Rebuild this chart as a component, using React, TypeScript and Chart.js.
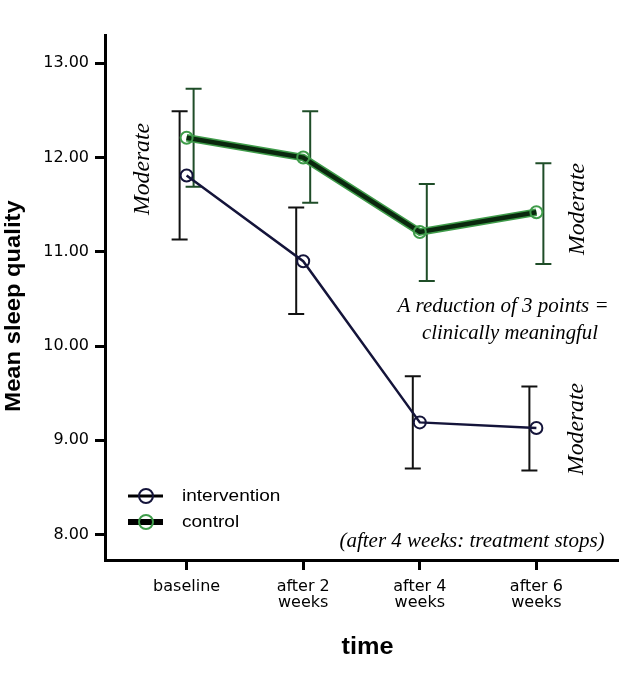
import React, { useEffect, useRef } from "react";
import { Chart, registerables } from "chart.js";

Chart.register(...registerables);

// ---- data ----
const timePoints = [0, 1, 2, 3];
const tickLabels: (string | string[])[] = ["baseline", ["after 2", "weeks"], ["after 4", "weeks"], ["after 6", "weeks"]];
const yTicks = [8, 9, 10, 11, 12, 13];

const interventionMean = [11.81, 10.9, 9.19, 9.13];
const interventionUpper = [12.49, 11.47, 9.68, 9.57];
const interventionLower = [11.13, 10.34, 8.7, 8.68];

const controlMean = [12.21, 12.0, 11.21, 11.42];
const controlUpper = [12.73, 12.49, 11.72, 11.94];
const controlLower = [11.69, 11.52, 10.69, 10.87];

const seriesNames = ["intervention", "control"];
const yTitle = "Mean sleep quality";
const xTitle = "time";
const noteModerate = "Moderate";
const noteReduction = ["A reduction of 3 points =", "clinically meaningful"];
const noteStop = "(after 4 weeks: treatment stops)";

const INT_COLOR = "#14143a";
const CTRL_CORE = "#0a280e";
const CTRL_HALO = "#3f9c4a";
const CTRL_BAR = "#1f4d28";
const HAND = '"Liberation Serif", "DejaVu Serif", serif';
const TICK_FONT = '"DejaVu Sans", "Liberation Sans", sans-serif';

function stretchText(ctx: CanvasRenderingContext2D, text: string, x: number, y: number, sx: number) {
  ctx.save();
  ctx.translate(x, y);
  ctx.scale(sx, 1);
  ctx.fillText(text, 0, 0);
  ctx.restore();
}

const errorBarPlugin = {
  id: "errorBars",
  beforeDatasetsDraw(chart: any) {
    const { ctx, scales } = chart;
    const xs = scales.x;
    const ys = scales.y;
    const draw = (lo: number[], hi: number[], off: number, color: string) => {
      ctx.save();
      ctx.strokeStyle = color;
      ctx.lineWidth = 2;
      lo.forEach((l, i) => {
        const x = xs.getPixelForValue(timePoints[i] + off);
        const y1 = ys.getPixelForValue(l);
        const y2 = ys.getPixelForValue(hi[i]);
        ctx.beginPath();
        ctx.moveTo(x, y1);
        ctx.lineTo(x, y2);
        ctx.moveTo(x - 8, y1);
        ctx.lineTo(x + 8, y1);
        ctx.moveTo(x - 8, y2);
        ctx.lineTo(x + 8, y2);
        ctx.stroke();
      });
      ctx.restore();
    };
    draw(interventionLower, interventionUpper, -0.06, "#111111");
    draw(controlLower, controlUpper, 0.06, CTRL_BAR);
  },
};

const notesPlugin = {
  id: "notes",
  afterDraw(chart: any) {
    const { ctx, chartArea } = chart;
    ctx.save();
    ctx.fillStyle = "#000";
    // axis titles
    ctx.font = 'bold 22px "Liberation Sans", Arial, sans-serif';
    ctx.textAlign = "center";
    ctx.textBaseline = "middle";
    ctx.save();
    ctx.translate(14, 306);
    ctx.rotate(-Math.PI / 2);
    ctx.scale(1.08, 1);
    ctx.fillText(yTitle, 0, 0);
    ctx.restore();
    ctx.font = 'bold 23px "Liberation Sans", Arial, sans-serif';
    stretchText(ctx, xTitle, (chartArea.left + chartArea.right) / 2 + 6, 648, 1.1);

    // legend
    const lx = 128;
    const rows = [
      { y: 496, w: 3, line: "#000", ring: INT_COLOR },
      { y: 522, w: 6, line: "#000", ring: CTRL_HALO },
    ];
    rows.forEach((r, i) => {
      ctx.strokeStyle = r.line;
      ctx.lineWidth = r.w;
      ctx.beginPath();
      ctx.moveTo(lx, r.y);
      ctx.lineTo(lx + 35, r.y);
      ctx.stroke();
      ctx.strokeStyle = r.ring;
      ctx.lineWidth = 2;
      ctx.beginPath();
      ctx.arc(lx + 18, r.y, 7, 0, Math.PI * 2);
      ctx.stroke();
      ctx.fillStyle = "#000";
      ctx.font = '17px "Liberation Sans", Arial, sans-serif';
      ctx.textAlign = "left";
      ctx.textBaseline = "middle";
      stretchText(ctx, seriesNames[i], 182, r.y, 1.12);
    });

    // handwritten notes
    ctx.fillStyle = "#000";
    ctx.textAlign = "center";
    ctx.textBaseline = "middle";
    ctx.font = `italic 24px ${HAND}`;
    const mod = [
      { x: 143, y: 169 },
      { x: 578, y: 209 },
      { x: 577, y: 429 },
    ];
    mod.forEach((m) => {
      ctx.save();
      ctx.translate(m.x, m.y);
      ctx.rotate(-Math.PI / 2);
      ctx.fillText(noteModerate, 0, 0, 92);
      ctx.restore();
    });
    ctx.font = `italic 21px ${HAND}`;
    ctx.fillText(noteReduction[0], 503, 306, 217);
    ctx.fillText(noteReduction[1], 510, 333, 176);
    ctx.fillText(noteStop, 472, 541, 285);
    ctx.restore();
  },
};

export default function App() {
  const ref = useRef<HTMLCanvasElement | null>(null);
  useEffect(() => {
    if (!ref.current) return;
    const pts = (arr: number[]) => arr.map((v, i) => ({ x: timePoints[i], y: v }));
    const chart = new Chart(ref.current, {
      type: "line",
      data: {
        datasets: [
          {
            label: seriesNames[0],
            data: pts(interventionMean),
            borderColor: INT_COLOR,
            borderWidth: 2.5,
            pointRadius: 6,
            pointBorderWidth: 2,
            pointBorderColor: INT_COLOR,
            pointBackgroundColor: "rgba(255,255,255,0)",
            tension: 0,
          },
          {
            label: seriesNames[1],
            data: pts(controlMean),
            borderColor: CTRL_CORE,
            borderWidth: 4.5,
            pointRadius: 6,
            pointBorderWidth: 2,
            pointBorderColor: CTRL_HALO,
            pointBackgroundColor: "rgba(255,255,255,0)",
            tension: 0,
          },
          {
            label: "control-halo",
            data: pts(controlMean),
            borderColor: CTRL_HALO,
            borderWidth: 7.5,
            pointRadius: 0,
            tension: 0,
          },
        ],
      },
      options: {
        responsive: false,
        animation: false,
        layout: { padding: { top: 35, right: 11, left: 0, bottom: 0 } },
        plugins: { legend: { display: false }, tooltip: { enabled: false } },
        scales: {
          x: {
            type: "linear",
            min: -0.7,
            max: 3.7,
            afterBuildTicks: (s: any) => {
              s.ticks = timePoints.map((v) => ({ value: v }));
            },
            afterFit: (s: any) => {
              s.height = 113;
            },
            ticks: {
              autoSkip: false,
              maxRotation: 0,
              padding: 8,
              color: "#000",
              font: { family: TICK_FONT, size: 16, lineHeight: 1.05 },
              callback: (v: any) => tickLabels[Math.round(Number(v))],
            },
            grid: { display: true, drawOnChartArea: false, drawTicks: true, tickLength: 10, tickWidth: 3, tickColor: "#000" },
            border: { display: true, width: 3, color: "#000" },
          },
          y: {
            min: 7.73,
            max: 13.3,
            afterBuildTicks: (s: any) => {
              s.ticks = yTicks.map((v) => ({ value: v }));
            },
            afterFit: (s: any) => {
              s.width = 105;
            },
            ticks: {
              padding: 6,
              color: "#000",
              font: { family: TICK_FONT, size: 16 },
              callback: (v: any) => Number(v).toFixed(2),
            },
            grid: { display: true, drawOnChartArea: false, drawTicks: true, tickLength: 10, tickWidth: 3, tickColor: "#000" },
            border: { display: true, width: 3, color: "#000" },
          },
        },
      },
      plugins: [errorBarPlugin, notesPlugin],
    } as any);
    return () => chart.destroy();
  }, []);
  return (
    <div style={{ position: "absolute", left: 0, top: 0, width: 629, height: 673, background: "#fff" }}>
      <canvas ref={ref} width={629} height={673} />
    </div>
  );
}
